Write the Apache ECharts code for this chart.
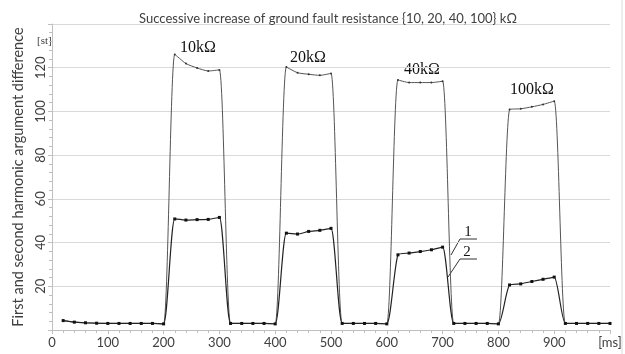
<!DOCTYPE html>
<html>
<head>
<meta charset="utf-8">
<script src="https://cdn.jsdelivr.net/npm/echarts@6/dist/echarts.min.js"></script>
<style>
  html, body { margin: 0; padding: 0; background: #fff; }
  #chart { width: 625px; height: 354px; }
</style>
</head>
<body>
<div id="chart"></div>
<script>
// time samples [ms]
const times = [20, 40, 60, 80, 100, 120, 140, 160, 180, 200,
  220, 240, 260, 280, 300, 320, 340, 360, 380, 400,
  420, 440, 460, 480, 500, 520, 540, 560, 580, 600,
  620, 640, 660, 680, 700, 720, 740, 760, 780, 800,
  820, 840, 860, 880, 900, 920, 940, 960, 980, 1000]

// curve 1 (upper)
const curve1 = [4.3, 3.6, 3.3, 3.1, 3.0, 3.0, 3.0, 3.0, 3.0, 2.8,
  126.1, 121.9, 119.9, 118.5, 119.0, 3.0, 3.0, 3.0, 3.0, 2.8,
  120.3, 117.7, 117.0, 116.5, 117.4, 3.0, 3.0, 3.0, 3.0, 2.8,
  114.4, 113.2, 113.2, 113.2, 113.8, 3.0, 3.0, 3.0, 3.0, 2.8,
  100.9, 101.2, 102.1, 103.2, 104.7, 3.0, 3.0, 3.0, 3.0, 3.0]

// curve 2 (lower)
const curve2 = [4.3, 3.6, 3.3, 3.1, 3.0, 3.0, 3.0, 3.0, 3.0, 2.8,
  50.8, 50.3, 50.5, 50.6, 51.5, 3.0, 3.0, 3.0, 3.0, 2.8,
  44.3, 43.9, 45.1, 45.6, 46.5, 3.0, 3.0, 3.0, 3.0, 2.8,
  34.4, 35.2, 35.9, 36.7, 37.9, 3.0, 3.0, 3.0, 3.0, 2.8,
  20.6, 21.1, 22.2, 23.2, 24.2, 3.0, 3.0, 3.0, 3.0, 3.0]

const resistLabels = ['10kΩ', '20kΩ', '40kΩ', '100kΩ']

const pairs = vals => times.map((t, i) => [t, vals[i]])

const chart = echarts.init(document.getElementById('chart'))

const serif = '"Liberation Serif", "DejaVu Serif", serif'
const sans = 'Lato, "Open Sans", sans-serif'

const option = {
  animation: false,
  backgroundColor: '#fff',
  title: {
    text: 'Successive increase of ground fault resistance {10, 20, 40, 100} kΩ',
    left: 323,
    textAlign: 'center',
    top: 7,
    textStyle: { fontFamily: sans, fontSize: 13, fontWeight: 'normal', color: '#404040' }
  },
  grid: { left: 52, right: 15, top: 24, bottom: 24 },
  xAxis: {
    type: 'value',
    min: 0,
    max: 1000,
    interval: 100,
    axisLine: { lineStyle: { color: '#bfbfbf' } },
    axisTick: { length: 4, lineStyle: { color: '#bfbfbf' } },
    minorTick: { show: true, splitNumber: 5, length: 3, lineStyle: { color: '#bfbfbf' } },
    splitLine: { show: false },
    axisLabel: {
      margin: 6,
      fontFamily: sans,
      fontSize: 13,
      color: '#404040',
      formatter: v => (v === 1000 ? '[ms]' : String(v))
    }
  },
  yAxis: {
    type: 'value',
    min: 0,
    max: 140,
    interval: 20,
    name: 'First and second harmonic argument difference',
    nameLocation: 'middle',
    nameGap: 26,
    nameRotate: 90,
    nameTextStyle: { fontFamily: sans, fontSize: 14.5, color: '#404040' },
    axisLine: { show: true, lineStyle: { color: '#bfbfbf' } },
    axisTick: { show: true, length: 4, lineStyle: { color: '#bfbfbf' } },
    minorTick: { show: true, splitNumber: 5, length: 3, lineStyle: { color: '#bfbfbf' } },
    splitLine: { lineStyle: { color: '#d9d9d9' } },
    axisLabel: {
      rotate: 90,
      margin: 5,
      fontFamily: sans,
      fontSize: 13,
      color: '#404040',
      formatter: v => (v === 0 || v === 140 ? '' : String(v))
    }
  },
  series: [
    {
      name: '1',
      type: 'line',
      data: pairs(curve1),
      smooth: 0.2,
      symbol: 'circle',
      symbolSize: 2,
      lineStyle: { color: '#555', width: 1 },
      itemStyle: { color: '#333' },
      z: 2
    },
    {
      name: '2',
      type: 'line',
      data: pairs(curve2),
      smooth: 0.2,
      symbol: 'rect',
      symbolSize: 3,
      lineStyle: { color: '#222', width: 1.2 },
      itemStyle: { color: '#111' },
      z: 3
    }
  ],
  graphic: [
    { type: 'text', left: 37, top: 36, style: { text: '[st]', font: '11px ' + serif, fill: '#404040' } },
    { type: 'text', x: 198, y: 48, style: { text: resistLabels[0], font: '16px ' + serif, fill: '#111', align: 'center', verticalAlign: 'middle' } },
    { type: 'text', x: 308, y: 58, style: { text: resistLabels[1], font: '16px ' + serif, fill: '#111', align: 'center', verticalAlign: 'middle' } },
    { type: 'text', x: 422, y: 70, style: { text: resistLabels[2], font: '16px ' + serif, fill: '#111', align: 'center', verticalAlign: 'middle' } },
    { type: 'text', x: 532, y: 90, style: { text: resistLabels[3], font: '16px ' + serif, fill: '#111', align: 'center', verticalAlign: 'middle' } },
    { type: 'text', x: 468, y: 232, style: { text: '1', font: '15px ' + serif, fill: '#111', align: 'center', verticalAlign: 'middle' } },
    { type: 'text', x: 467, y: 252, style: { text: '2', font: '15px ' + serif, fill: '#111', align: 'center', verticalAlign: 'middle' } },
    { type: 'polyline', shape: { points: [[451, 255], [460, 239], [477, 239]] }, style: { stroke: '#333', lineWidth: 1, fill: null } },
    { type: 'polyline', shape: { points: [[448, 277], [460, 259], [477, 259]] }, style: { stroke: '#333', lineWidth: 1, fill: null } },
    { type: 'line', shape: { x1: 622, y1: 0, x2: 622, y2: 354 }, style: { stroke: '#d9d9d9', lineWidth: 1 } }
  ]
}

chart.setOption(option)
</script>
</body>
</html>
